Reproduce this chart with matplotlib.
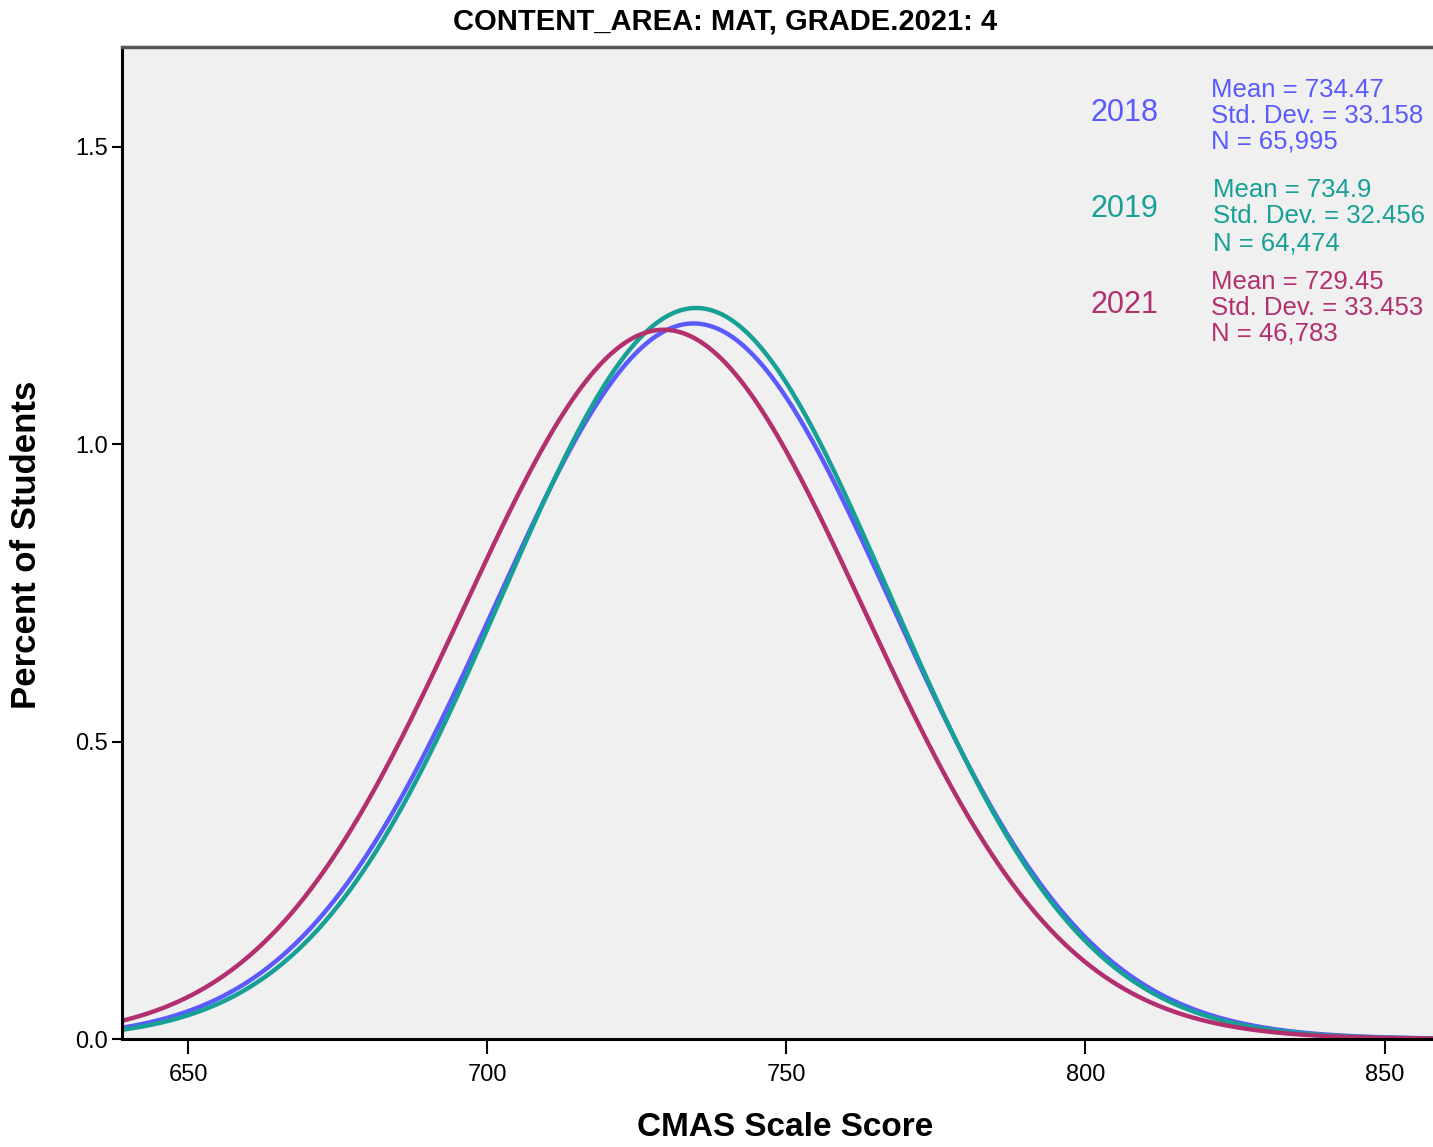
import numpy as np
import matplotlib
matplotlib.use('Agg')
import matplotlib.pyplot as plt

# summary stats per year (from the legend)
years = ['2018', '2019', '2021']
means = [734.47, 734.9, 729.45]
sds = [33.158, 32.456, 33.453]
ns = ['65,995', '64,474', '46,783']
colors = ['#5a5aff', '#17a096', '#b3306f']

title = 'CONTENT_AREA: MAT, GRADE.2021: 4'
x_label = 'CMAS Scale Score'
y_label = 'Percent of Students'

narrow = ['Liberation Sans Narrow', 'Liberation Sans', 'DejaVu Sans']
plain = ['Liberation Sans', 'DejaVu Sans']

fig = plt.figure(figsize=(14.33, 11.47), dpi=100)
ax = fig.add_axes([122/1433, 108/1147, (1433-122)/1433 + 0.01, (1039-47)/1147])
ax.set_facecolor('#f0f0f0')

x_min, x_max = 638.9, 860.5
xs = np.linspace(x_min, x_max, 800)

# normal curves (percent), drawn blue, teal, magenta
for i in [0, 1, 2]:
    pdf = 100 * np.exp(-0.5 * ((xs - means[i]) / sds[i]) ** 2) / (sds[i] * np.sqrt(2 * np.pi))
    ax.plot(xs, pdf, color=colors[i], lw=3.2, solid_capstyle='round')

ax.set_xlim(x_min, x_max)
ax.set_ylim(0, 1.668)
ax.set_xticks([650, 700, 750, 800, 850])
ax.set_yticks([0.0, 0.5, 1.0, 1.5])
ax.set_yticklabels(['0.0', '0.5', '1.0', '1.5'])

for sp in ['left', 'bottom']:
    ax.spines[sp].set_linewidth(2.2)
    ax.spines[sp].set_color('black')
ax.spines['top'].set_linewidth(2.5)
ax.spines['top'].set_color('#555555')
ax.spines['right'].set_visible(False)

ax.tick_params(axis='x', length=11, width=1.5, pad=7, labelsize=17)
ax.tick_params(axis='y', length=7, width=1.5, pad=3, labelsize=17)
for lab in ax.get_xticklabels() + ax.get_yticklabels():
    lab.set_family(narrow)

fig.text(725/1433, 1 - 22/1147, title, ha='center', va='center',
         fontsize=21, fontweight='bold', family=narrow)
fig.text(785/1433, 1 - 1128/1147, x_label, ha='center', va='center',
         fontsize=24, fontweight='bold', family=narrow)
fig.text(27/1433, 1 - 545/1147, y_label, ha='center', va='center', rotation=90,
         fontsize=25, fontweight='bold', family=narrow)

# legend blocks
year_y = [113, 209, 305]
stat_y = [[90, 116, 142], [190, 216, 243], [282, 308, 334]]
stat_x = [1211, 1213, 1211]
for i in range(len(years)):
    fig.text(1090/1433, 1 - year_y[i]/1147, years[i], ha='left', va='center',
             fontsize=22, color=colors[i], family=plain)
    lines = ['Mean = %s' % means[i], 'Std. Dev. = %s' % sds[i], 'N = %s' % ns[i]]
    for ly, t in zip(stat_y[i], lines):
        fig.text(stat_x[i]/1433, 1 - ly/1147, t, ha='left', va='center',
                 fontsize=18.5, color=colors[i], family=plain)

fig.savefig('out.png', dpi=100)
